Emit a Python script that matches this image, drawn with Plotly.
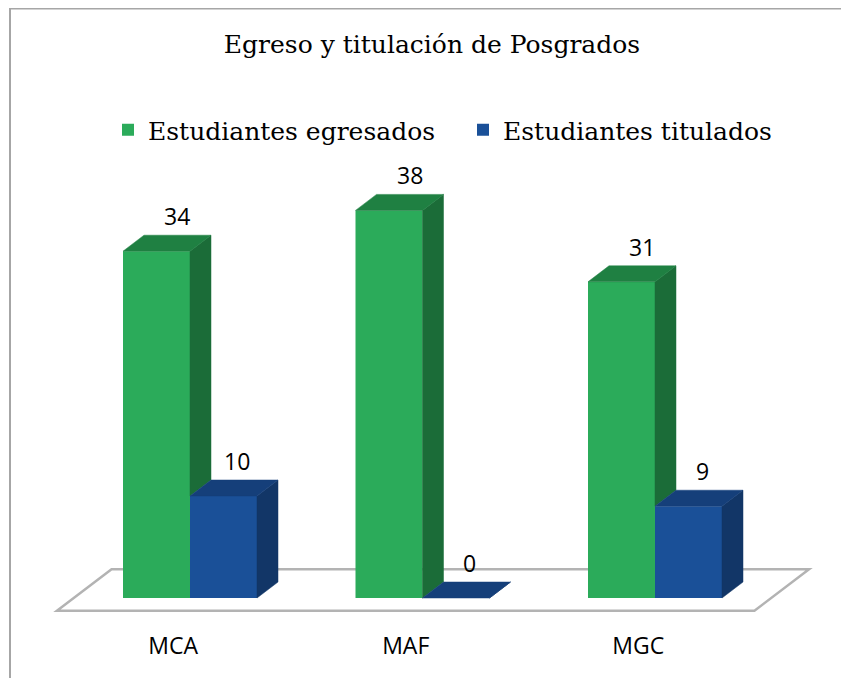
import plotly.graph_objects as go

# ---------------- data ----------------
categories = ["MCA", "MAF", "MGC"]
egresados = [34, 38, 31]
titulados = [10, 0, 9]
series_names = ["Estudiantes egresados", "Estudiantes titulados"]
title_text = "Egreso y titulación de Posgrados"

# ---------------- style constants ----------------
W, H = 841, 670            # page body has an 8px margin
PX_PER_CAT = 232.5
PX_PER_VAL = 10.2
ZERO_PX_X = 182.0          # pixel of category 0 (figure coords)
ZERO_PX_Y = 590.0          # pixel (from top) of value 0
MARGIN_B = 53

BAR_W = 67 / PX_PER_CAT
DEPTH_X = 21 / PX_PER_CAT
DEPTH_Y = 16 / PX_PER_VAL
FLOOR_D0, FLOOR_D1 = -0.8, 1.8
FLOOR_X0, FLOOR_X1 = -0.5, 2.5

G_FRONT, G_SIDE, G_TOP = "#2BAB5A", "#1B6C38", "#1F8042"
B_FRONT, B_SIDE, B_TOP = "#1A5098", "#123667", "#153F7A"
SERIF = "DejaVu Serif"
SANS = "Open Sans"

xs = list(range(len(categories)))
plot_h = H - MARGIN_B
x_min = -ZERO_PX_X / PX_PER_CAT
x_max = x_min + W / PX_PER_CAT
y_max = ZERO_PX_Y / PX_PER_VAL
y_min = -(plot_h - ZERO_PX_Y) / PX_PER_VAL

fig = go.Figure()

# front faces (bars)
fig.add_trace(go.Bar(x=xs, y=egresados, width=BAR_W, offset=-BAR_W, name=series_names[0],
                     marker=dict(color=G_FRONT, line=dict(width=0)), hoverinfo="skip"))
fig.add_trace(go.Bar(x=xs, y=titulados, width=BAR_W, offset=0, name=series_names[1],
                     marker=dict(color=B_FRONT, line=dict(width=0)), hoverinfo="skip"))


def poly(px, py, color):
    fig.add_trace(go.Scatter(x=px + [px[0]], y=py + [py[0]], mode="lines", fill="toself",
                             fillcolor=color, line=dict(width=0.5, color=color),
                             showlegend=False, hoverinfo="skip"))


for i, g, b in zip(xs, egresados, titulados):
    lo = min(b, g)
    poly([i, i + DEPTH_X, i + DEPTH_X, i], [lo, lo + DEPTH_Y, g + DEPTH_Y, g], G_SIDE)
    poly([i - BAR_W, i, i + DEPTH_X, i - BAR_W + DEPTH_X], [g, g, g + DEPTH_Y, g + DEPTH_Y], G_TOP)
for i, b in zip(xs, titulados):
    poly([i + BAR_W, i + BAR_W + DEPTH_X, i + BAR_W + DEPTH_X, i + BAR_W],
         [0, DEPTH_Y, b + DEPTH_Y, b], B_SIDE)
    poly([i, i + BAR_W, i + BAR_W + DEPTH_X, i + DEPTH_X], [b, b, b + DEPTH_Y, b + DEPTH_Y], B_TOP)

# value labels
annotations = []
for series, sign, dx in ((egresados, -1, 0.09), (titulados, 1, 0.06)):
    for i, v in zip(xs, series):
        annotations.append(dict(x=i + sign * BAR_W / 2 + dx, y=v, xref="x", yref="y",
                                text=str(v), showarrow=False, yshift=35,
                                xanchor="center", yanchor="middle",
                                font=dict(family=SANS, size=23, color="#000000")))

# floor (drawn below everything)
fx = [FLOOR_X0 + FLOOR_D0 * DEPTH_X, FLOOR_X1 + FLOOR_D0 * DEPTH_X,
      FLOOR_X1 + FLOOR_D1 * DEPTH_X, FLOOR_X0 + FLOOR_D1 * DEPTH_X]
fy = [FLOOR_D0 * DEPTH_Y, FLOOR_D0 * DEPTH_Y, FLOOR_D1 * DEPTH_Y, FLOOR_D1 * DEPTH_Y]
floor_path = "M{},{} L{},{} L{},{} L{},{} Z".format(fx[0], fy[0], fx[1], fy[1], fx[2], fy[2], fx[3], fy[3])

shapes = [
    dict(type="path", path=floor_path, xref="x", yref="y", layer="below",
         line=dict(color="#B3B3B3", width=2.5), fillcolor="rgba(255,255,255,0)"),
    # chart frame
    dict(type="line", xref="paper", yref="paper", x0=2 / W, x1=1.0,
         y0=1 - 0.5 / plot_h, y1=1 - 0.5 / plot_h, line=dict(color="#A6A6A6", width=2)),
    dict(type="line", xref="paper", yref="paper", x0=2 / W, x1=2 / W,
         y0=1, y1=1 - (H + 10) / plot_h, line=dict(color="#A6A6A6", width=2)),
]

fig.update_layout(
    width=W, height=H,
    margin=dict(l=0, r=0, t=0, b=MARGIN_B),
    paper_bgcolor="white", plot_bgcolor="white",
    barmode="overlay",
    showlegend=True,
    title=dict(text=title_text, x=424 / W, xanchor="center", xref="paper",
               y=1 - 36 / H, yanchor="middle", yref="container",
               font=dict(family=SERIF, size=25, color="#000000")),
    legend=dict(orientation="h", x=100 / W, xanchor="left", y=1 - 122 / plot_h, yanchor="middle",
                font=dict(family=SERIF, size=25, color="#000000"), bgcolor="rgba(0,0,0,0)",
                entrywidth=310, entrywidthmode="pixels",
                itemclick=False, itemdoubleclick=False, traceorder="normal"),
    xaxis=dict(range=[x_min, x_max], tickvals=[i + FLOOR_D0 * DEPTH_X for i in xs],
               ticktext=categories, showgrid=False, zeroline=False, showline=False, ticks="",
               ticklabelstandoff=5,
               tickfont=dict(family=SANS, size=23, color="#000000"), fixedrange=True),
    yaxis=dict(range=[y_min, y_max], visible=False, fixedrange=True),
    annotations=annotations,
    shapes=shapes,
)

fig.write_html("out.html")
